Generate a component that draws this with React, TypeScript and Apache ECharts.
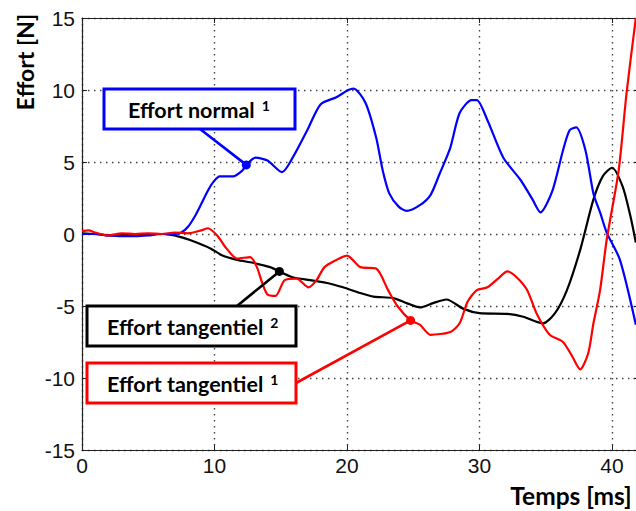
import React, { useEffect, useRef } from "react";
import * as echarts from "echarts";

// ---- data (time in ms, effort in N) ----
const timeNormal = [0, 1, 2, 3, 4, 5, 6, 7, 7.5, 8, 8.5, 8.9, 9.5, 9.9, 10.4, 11.4, 12.1, 12.4, 13.1, 14.0, 15.1, 15.9, 17.0, 18.0, 19.2, 20.1, 20.5, 21.4, 22.2, 22.7, 23.2, 23.9, 24.5, 25.5, 26.3, 27.0, 27.8, 28.5, 29.4, 29.8, 30.6, 31.8, 33.1, 34.0, 34.6, 35.5, 36.3, 36.8, 37.3, 38.0, 38.6, 39.1, 39.6, 40.6, 41.8];
const effortNormal = [0, 0, -0.1, -0.15, -0.15, -0.1, 0, 0, 0.1, 0.5, 1.2, 1.9, 3.0, 3.6, 4.0, 4.0, 4.4, 4.8, 5.3, 5.1, 4.3, 5.3, 7.2, 9.0, 9.5, 10.0, 10.1, 9.1, 6.7, 4.4, 2.8, 1.9, 1.6, 2.0, 2.7, 4.2, 6.0, 8.4, 9.3, 9.3, 7.9, 5.3, 3.75, 2.4, 1.5, 3.0, 5.8, 7.2, 7.4, 5.8, 2.8, 1.5, 0.1, -1.8, -6.3];

const timeTang1 = [0, 0.5, 1, 2, 3, 4, 5, 6, 7, 8, 9, 9.5, 10.2, 10.9, 11.7, 12.7, 13.2, 13.6, 14.0, 14.6, 15.3, 16.2, 17.1, 17.7, 18.3, 19.2, 20.0, 21.0, 22.2, 23.1, 23.8, 24.8, 25.5, 26.3, 27.8, 28.5, 29.1, 29.8, 30.6, 31.4, 32.1, 32.8, 33.6, 34.3, 35.3, 36.3, 37.0, 37.6, 38.2, 38.6, 39.1, 39.6, 40.5, 41.1, 41.8];
const effortTang1 = [0.2, 0.25, 0.1, -0.1, 0.05, 0, 0.05, 0, 0.1, 0.05, 0.25, 0.4, -0.1, -1.0, -1.7, -1.6, -2.3, -3.4, -4.2, -4.3, -3.2, -3.1, -3.7, -3.2, -2.3, -1.8, -1.5, -2.3, -2.4, -3.9, -5.0, -6.0, -6.3, -7.0, -6.8, -6.2, -4.7, -3.9, -3.7, -3.1, -2.6, -3.0, -3.9, -5.5, -7.0, -7.5, -8.5, -9.4, -8.3, -6.2, -3.9, -0.4, 4.4, 9.8, 15];

const timeTang2 = [0, 1, 2.3, 4, 6.1, 7.4, 8.4, 9.7, 10.6, 11.7, 12.9, 14.2, 14.9, 15.9, 17.2, 18.5, 19.7, 21.0, 22.0, 23.5, 24.5, 25.5, 26.5, 27.5, 28.8, 30.0, 32.1, 33.3, 34.8, 35.7, 36.6, 37.6, 38.6, 39.3, 40.0, 40.8, 41.4, 41.8];
const effortTang2 = [0.05, 0, -0.1, 0, 0, -0.2, -0.5, -1.0, -1.5, -1.8, -2.0, -2.3, -2.6, -3.0, -3.2, -3.4, -3.7, -4.1, -4.35, -4.45, -4.8, -5.1, -4.8, -4.55, -5.2, -5.5, -5.55, -5.75, -6.2, -5.5, -3.9, -1.1, 2.4, 4.0, 4.6, 3.3, 1.2, -0.6];

const xTicks = [0, 10, 20, 30, 40];
const yTicks = [-15, -10, -5, 0, 5, 10, 15];

const annotationLabels = ["Effort normal", "Effort tangentiel", "Effort tangentiel"];
const annotationSups = ["1", "2", "1"];
const annotationTimes = [12.4, 14.9, 24.8];
const annotationEfforts = [4.8, -2.6, -6.0];

const BLUE = "#0000ff";
const RED = "#ff0000";
const BLACK = "#000000";

function pairs(t: number[], v: number[]) {
  return t.map((x, i) => [x, v[i]]);
}

export default function App() {
  const ref = useRef<HTMLDivElement>(null);
  useEffect(() => {
    if (!ref.current) return;
    const chart = echarts.init(ref.current, undefined, { renderer: "svg" });
    const gridLine = { show: true, lineStyle: { color: "#444", width: 1.4, type: [1.5, 4.5] as any } };
    const tickFont = { fontFamily: "Liberation Sans", fontSize: 21, color: "#111" };
    chart.setOption({
      animation: false,
      backgroundColor: "#fff",
      grid: { left: 82, top: 18, width: 556.5, height: 432, containLabel: false, outerBoundsMode: "none" },
      xAxis: [
        {
          type: "value", min: xTicks[0], max: 42, interval: 10, position: "bottom",
          axisLine: { show: true, onZero: false, lineStyle: { color: "#222", width: 1.2 } },
          axisTick: { show: true, inside: true, length: 5, lineStyle: { color: "#222" } },
          axisLabel: { ...tickFont, margin: 5, showMaxLabel: false },
          splitLine: gridLine,
        },
        {
          type: "value", min: xTicks[0], max: 42, interval: 10, position: "top",
          axisLine: { show: true, onZero: false, lineStyle: { color: "#222", width: 1.2 } },
          axisTick: { show: true, inside: true, length: 5, lineStyle: { color: "#222" } },
          axisLabel: { show: false },
          splitLine: { show: false },
        },
      ],
      yAxis: [
        {
          type: "value", min: yTicks[0], max: yTicks[yTicks.length - 1], interval: 5, position: "left",
          axisLine: { show: true, onZero: false, lineStyle: { color: "#222", width: 1.2 } },
          axisTick: { show: true, inside: true, length: 5, lineStyle: { color: "#222" } },
          axisLabel: { ...tickFont, margin: 7 },
          splitLine: gridLine,
        },
        {
          type: "value", min: yTicks[0], max: yTicks[yTicks.length - 1], interval: 5, position: "right",
          axisLine: { show: true, onZero: false, lineStyle: { color: "#222", width: 1.2 } },
          axisTick: { show: true, inside: true, length: 5, lineStyle: { color: "#222" } },
          axisLabel: { show: false },
          splitLine: { show: false },
        },
      ],
      series: [
        {
          name: "Effort tangentiel 2", type: "line", data: pairs(timeTang2, effortTang2),
          showSymbol: false, smooth: 0.25, clip: true,
          lineStyle: { color: BLACK, width: 2.2 }, itemStyle: { color: BLACK },
        },
        {
          name: "Effort normal 1", type: "line", data: pairs(timeNormal, effortNormal),
          showSymbol: false, smooth: 0.25, clip: true,
          lineStyle: { color: BLUE, width: 2.2 }, itemStyle: { color: BLUE },
        },
        {
          name: "Effort tangentiel 1", type: "line", data: pairs(timeTang1, effortTang1),
          showSymbol: false, smooth: 0.25, clip: true,
          lineStyle: { color: RED, width: 2.2 }, itemStyle: { color: RED },
        },
      ],
    });

    // annotation layout (pixels)
    const boxes = [
      { x: 104, y: 89, w: 191, h: 40, color: BLUE, from: [200, 129], tx: 128 },
      { x: 87, y: 306, w: 209, h: 40, color: BLACK, from: [237, 306], tx: 107 },
      { x: 87, y: 363, w: 209, h: 40, color: RED, from: [296, 383], tx: 107 },
    ];
    const textFont = "Lato";
    const labelSize = 21.5;
    const supSize = 14;
    const measure = (txt: string, size: number) => {
      const c = document.createElement("canvas").getContext("2d")!;
      c.font = `bold ${size}px ${textFont}`;
      return c.measureText(txt).width;
    };
    const graphics: any[] = [];
    boxes.forEach((b, i) => {
      const p = chart.convertToPixel({ gridIndex: 0 }, [annotationTimes[i], annotationEfforts[i]]) as number[];
      graphics.push({
        type: "line", z: 100,
        shape: { x1: b.from[0], y1: b.from[1], x2: p[0], y2: p[1] },
        style: { stroke: b.color, lineWidth: 2.6 },
      });
      graphics.push({
        type: "circle", z: 101,
        shape: { cx: p[0], cy: p[1], r: 4.5 },
        style: { fill: b.color },
      });
      graphics.push({
        type: "rect", z: 102,
        shape: { x: b.x, y: b.y, width: b.w, height: b.h },
        style: { fill: "#fff", stroke: b.color, lineWidth: 3 },
      });
      graphics.push({
        type: "text", z: 103,
        style: {
          text: annotationLabels[i],
          x: b.tx, y: b.y + b.h / 2 + 1,
          fill: "#000", fontFamily: textFont, fontWeight: "bold", fontSize: labelSize,
          textAlign: "left", textVerticalAlign: "middle", align: "left", verticalAlign: "middle",
        },
      });
      const w = measure(annotationLabels[i], labelSize);
      graphics.push({
        type: "text", z: 104,
        style: {
          text: annotationSups[i],
          x: b.tx + w + 7, y: b.y + 9,
          fill: "#000", fontFamily: textFont, fontWeight: "bold", fontSize: supSize,
          textAlign: "left", textVerticalAlign: "top", align: "left", verticalAlign: "top",
        },
      });
    });
    graphics.push({
      type: "text", z: 110, rotation: Math.PI / 2, x: 25, y: 62,
      style: {
        text: "Effort [N]", fill: "#000", fontFamily: textFont, fontWeight: "bold", fontSize: 23,
        textAlign: "center", textVerticalAlign: "middle", align: "center", verticalAlign: "middle",
      },
    });
    graphics.push({
      type: "text", z: 110, x: 571, y: 495,
      style: {
        text: "Temps [ms]", fill: "#000", fontFamily: textFont, fontWeight: "bold", fontSize: 24.5,
        textAlign: "center", textVerticalAlign: "middle", align: "center", verticalAlign: "middle",
      },
    });
    chart.setOption({ graphic: graphics });

    return () => chart.dispose();
  }, []);
  return (
    <div
      ref={ref}
      style={{ position: "absolute", left: 0, top: 0, width: 636, height: 511, background: "#fff" }}
    />
  );
}
